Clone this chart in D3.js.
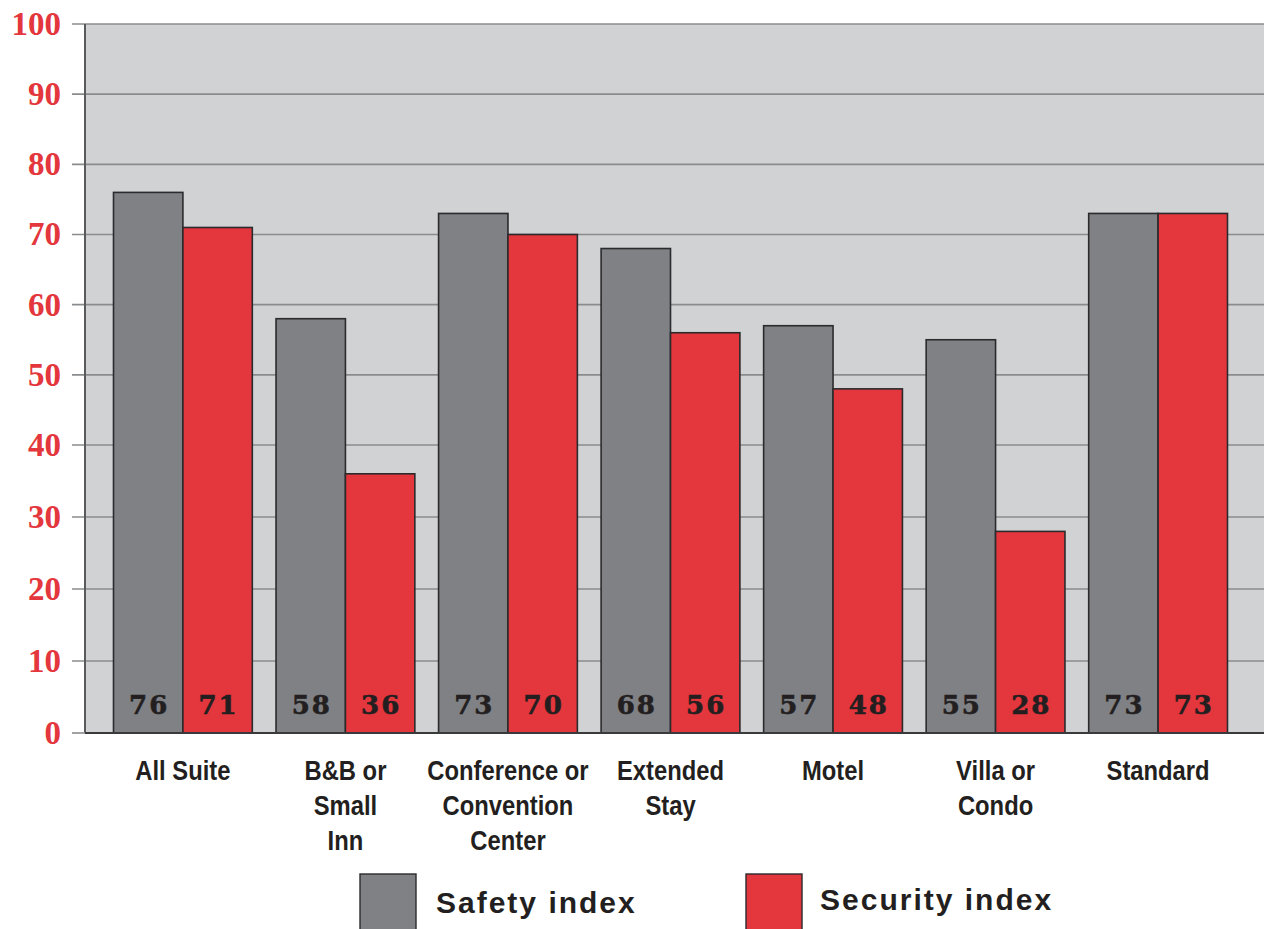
<!DOCTYPE html>
<html>
<head>
<meta charset="utf-8">
<script src="https://cdn.jsdelivr.net/npm/d3@7"></script>
<style>
  html, body { margin: 0; padding: 0; background: #ffffff; }
  svg { display: block; }
</style>
</head>
<body>
<svg id="chart" width="1264" height="929"></svg>
<script>
// ---- data ----
const categories = ["All Suite", "B&B or Small Inn", "Conference or Convention Center", "Extended Stay", "Motel", "Villa or Condo", "Standard"];
const categoryLines = [["All Suite"], ["B&B or", "Small", "Inn"], ["Conference or", "Convention", "Center"], ["Extended", "Stay"], ["Motel"], ["Villa or", "Condo"], ["Standard"]];
const safetyIndex = [76, 58, 73, 68, 57, 55, 73];
const securityIndex = [71, 36, 70, 56, 48, 28, 73];
const seriesNames = ["Safety index", "Security index"];
const yTicks = [0, 10, 20, 30, 40, 50, 60, 70, 80, 90, 100];

// ---- layout ----
const W = 1264, H = 929;
const plotLeft = 85, plotRight = 1264, plotTop = 24, plotBottom = 733;
const colors = { "Safety index": "#808185", "Security index": "#e3363d" };

const svg = d3.select("#chart");

const x0 = d3.scaleBand().domain(categories).range([81, 1260]).paddingInner(0.146).paddingOuter(0.2);
const x1 = d3.scaleBand().domain(seriesNames).range([0, x0.bandwidth()]);
const y = d3.scaleLinear().domain([0, 40, 100]).range([plotBottom, 445, plotTop]);

// background
svg.append("rect").attr("x", plotLeft).attr("y", plotTop)
  .attr("width", plotRight - plotLeft).attr("height", plotBottom - plotTop)
  .attr("fill", "#d1d2d4");

// gridlines + ticks
svg.append("g").selectAll("line").data(yTicks.filter(d => d > 0)).join("line")
  .attr("x1", 72).attr("x2", plotRight)
  .attr("y1", d => y(d)).attr("y2", d => y(d))
  .attr("stroke", "#8a8b8d").attr("stroke-width", 1.6);

// y tick labels
svg.append("g").selectAll("text").data(yTicks).join("text")
  .attr("x", 61).attr("y", d => y(d))
  .attr("dy", "0.33em")
  .attr("text-anchor", "end")
  .attr("font-family", "'Liberation Serif', serif")
  .attr("font-weight", "bold")
  .attr("font-size", 33)
  .attr("fill", "#e3363d")
  .text(d => d);

// bars
const rows = categories.map((c, i) => ({ cat: c, i, vals: [
  { s: "Safety index", v: safetyIndex[i] },
  { s: "Security index", v: securityIndex[i] } ] }));

const groups = svg.append("g").selectAll("g").data(rows).join("g")
  .attr("transform", d => `translate(${x0(d.cat)},0)`);

groups.selectAll("rect").data(d => d.vals).join("rect")
  .attr("x", d => x1(d.s))
  .attr("y", d => y(d.v))
  .attr("width", x1.bandwidth())
  .attr("height", d => y(0) - y(d.v))
  .attr("fill", d => colors[d.s])
  .attr("stroke", "#2b2a2c")
  .attr("stroke-width", 1.6);

groups.selectAll("text").data(d => d.vals).join("text")
  .attr("x", d => x1(d.s) + x1.bandwidth() / 2 + 1)
  .attr("y", y(0) - 19)
  .attr("text-anchor", "middle")
  .attr("font-family", "'DejaVu Serif', serif")
  .attr("font-weight", "bold")
  .attr("font-size", 26)
  .attr("letter-spacing", 2)
  .attr("stroke", "#231f20")
  .attr("stroke-width", 0.6)
  .attr("fill", "#231f20")
  .text(d => d.v);

// axis lines
svg.append("line").attr("x1", plotLeft).attr("x2", plotLeft).attr("y1", plotTop).attr("y2", plotBottom)
  .attr("stroke", "#5a5a5c").attr("stroke-width", 2);
svg.append("line").attr("x1", plotLeft).attr("x2", plotRight).attr("y1", plotBottom).attr("y2", plotBottom)
  .attr("stroke", "#3a3a3c").attr("stroke-width", 2);
svg.append("line").attr("x1", 72).attr("x2", plotLeft).attr("y1", plotBottom).attr("y2", plotBottom)
  .attr("stroke", "#8a8b8d").attr("stroke-width", 1.6);

// category labels (horizontally condensed)
const catG = svg.append("g").selectAll("text").data(categories).join("text")
  .attr("transform", d => `translate(${x0(d) + x0.bandwidth() / 2},0) scale(0.85,1)`)
  .attr("text-anchor", "middle")
  .attr("font-family", "'Liberation Sans', sans-serif")
  .attr("font-weight", "bold")
  .attr("font-size", 28)
  .attr("fill", "#231f20");
catG.each(function(d, i) {
  const t = d3.select(this);
  categoryLines[i].forEach((ln, k) => {
    t.append("tspan").attr("x", 0)
      .attr("y", 780 + k * 35).text(ln);
  });
});

// legend
const legendX = [360, 746];
const legend = svg.append("g").selectAll("g").data(seriesNames).join("g")
  .attr("transform", (d, i) => `translate(${legendX[i]},874)`);
legend.append("rect").attr("width", 56).attr("height", 60)
  .attr("fill", d => colors[d]).attr("stroke", "#2b2a2c").attr("stroke-width", 1.4);
legend.append("text")
  .attr("x", (d, i) => i === 0 ? 76 : 74)
  .attr("y", (d, i) => i === 0 ? 39 : 36)
  .attr("font-family", "'Liberation Sans', sans-serif")
  .attr("font-weight", "bold")
  .attr("font-size", 30)
  .attr("letter-spacing", 2)
  .attr("fill", "#231f20")
  .text(d => d);
</script>
</body>
</html>
